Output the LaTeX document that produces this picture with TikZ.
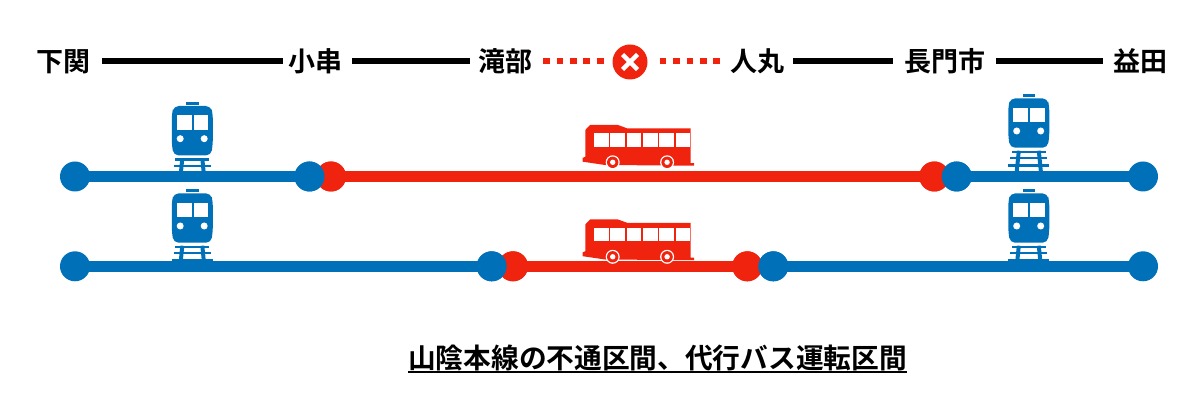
\documentclass[tikz,border=0pt]{standalone}
\usepackage{fontspec}
\usetikzlibrary{calc}
\setmainfont{Noto Sans CJK JP}[BoldFont={Noto Sans CJK JP Bold}]
\definecolor{lineblue}{HTML}{0070B8}
\definecolor{linered}{HTML}{F0230E}
\tikzset{
  stationlabel/.style={font=\fontsize{27}{27}\selectfont\bfseries,inner sep=0pt,text=black,text height=23.76pt,text depth=3.24pt},
  titlelabel/.style={font=\fontsize{27.7}{28}\selectfont\bfseries,inner sep=0pt,text=black,text height=24.4pt,text depth=3.3pt},
  blackline/.style={line width=6pt,draw=black},
  dotline/.style={line width=6pt,draw=linered,dash pattern=on 6.7pt off 6.7pt},
  blueline/.style={line width=10.5pt,draw=lineblue},
  redline/.style={line width=10.5pt,draw=linered},
  bluedot/.style={circle,fill=lineblue,minimum size=30pt,inner sep=0pt},
  reddot/.style={circle,fill=linered,minimum size=30pt,inner sep=0pt},
  stopmark/.style={circle,fill=linered,minimum size=35pt,inner sep=0pt},
  train/.pic={
    \fill[lineblue] (-6.2,0) rectangle (6.2,2.7);
    \fill[lineblue,rounded corners=5pt] (-18.5,4) -- (18.5,4) -- (20.5,12) -- (20.5,42) -- (18.8,53.4) -- (-18.8,53.4) -- (-20.5,42) -- (-20.5,12) -- cycle;
    \fill[white] (-15.5,13.4) rectangle (-0.8,28);
    \fill[white] (1.2,13.4) rectangle (15.9,28);
    \fill[white] (-12.1,36.7) circle (3.5pt);
    \fill[white] (11.9,36.7) circle (3.5pt);
    \fill[lineblue] (-17,56.4) rectangle (17,58.7);
    \fill[lineblue] (-18.5,62.7) rectangle (18.5,64.7);
    \fill[lineblue] (-20.5,69.7) rectangle (20.5,72.4);
    \draw[lineblue,line width=4pt] (-10,56.4) -- (-12,76.7);
    \draw[lineblue,line width=4pt] (10,56.4) -- (12,76.7);
  },
  bus/.pic={
    \fill[linered] (2.6,-35.7) -- (7.3,-40.7) -- (35.3,-40.7) -- (44.4,-37.4) -- (108,-37.4) -- (108,-2.5) -- (111.3,-2.5) -- (111.3,0) -- (22.3,-0.7) -- (0,-4) -- (0,-7.7) -- (2.6,-9) -- cycle;
    \foreach \i in {0,...,5}{\fill[white] (11.3+16.33*\i,-32.4) rectangle ++(14.7,13.4);}
    \foreach \w in {30,84.4}{
      \fill[white] (\w,-3.4) circle (7pt);
      \fill[linered] (\w,-3.4) circle (5.7pt);
      \fill[white] (\w,-3.4) circle (2.7pt);
    }
  }
}
\begin{document}
\begin{tikzpicture}[x=1pt,y=-1pt]
\useasboundingbox (0,0) rectangle (1200,411);
% header
\node[stationlabel] (shimonoseki) at (63.5,61) {下関};
\node[stationlabel] (ogushi) at (315,61) {小串};
\node[stationlabel] (takibe) at (505,61) {滝部};
\node[stationlabel] (hitomaru) at (757,61) {人丸};
\node[stationlabel] (nagato) at (945,61) {長門市};
\node[stationlabel] (masuda) at (1140,61) {益田};
\node[stopmark] (stop) at (630,62) {};
\draw[white,line width=4.5pt] ($(stop)+(-7.5,-7.5)$) -- ($(stop)+(7.5,7.5)$);
\draw[white,line width=4.5pt] ($(stop)+(-7.5,7.5)$) -- ($(stop)+(7.5,-7.5)$);
\draw[blackline,shorten <=11pt,shorten >=5pt] (shimonoseki.east) -- (ogushi.west);
\draw[blackline,shorten <=10pt,shorten >=8pt] (ogushi.east) -- (takibe.west);
\draw[dotline,shorten <=11pt,shorten >=2.8pt] (takibe.east) -- (stop.west |- takibe.east);
\draw[dotline,shorten <=12pt,shorten >=4.7pt] (stop.east |- hitomaru.west) -- (hitomaru.west);
\draw[blackline,shorten <=9pt,shorten >=11pt] (hitomaru.east) -- (nagato.west);
\draw[blackline,shorten <=10pt,shorten >=10pt] (nagato.east) -- (masuda.west);
% row 1
\node[bluedot] (a1) at (75,176.5) {};
\node[bluedot] (b1) at (309.5,176.5) {};
\node[reddot] (c1) at (331,176.5) {};
\node[reddot] (d1) at (934.3,176.5) {};
\node[bluedot] (e1) at (956.7,176.5) {};
\node[bluedot] (f1) at (1143,176.5) {};
\draw[blueline] (a1.center) -- (b1.center);
\draw[redline] (c1.center) -- (d1.center);
\draw[blueline] (e1.center) -- (f1.center);
\node[reddot] at (c1) {};
\node[reddot] at (d1) {};
\node[bluedot] at (b1) {};
\node[bluedot] at (e1) {};
% row 2
\node[bluedot] (a2) at (75,266.3) {};
\node[bluedot] (b2) at (491.7,266.3) {};
\node[reddot] (c2) at (513,266.3) {};
\node[reddot] (d2) at (747.3,266.3) {};
\node[bluedot] (e2) at (773.3,266.3) {};
\node[bluedot] (f2) at (1143,266.3) {};
\draw[blueline] (a2.center) -- (b2.center);
\draw[redline] (c2.center) -- (d2.center);
\draw[blueline] (e2.center) -- (f2.center);
\node[reddot] at (c2) {};
\node[reddot] at (d2) {};
\node[bluedot] at (b2) {};
\node[bluedot] at (e2) {};
% icons
\pic at (192.3,102) {train};
\pic at (1028.8,94.3) {train};
\pic at (192.3,189.3) {train};
\pic at (1028.8,189.3) {train};
\pic at (582.7,165.7) {bus};
\pic at (582.7,260.2) {bus};
% title
\node[titlelabel] (title) at (657.5,357.5) {山陰本線の不通区間、代行バス運転区間};
\draw[black,line width=2pt] ($(title.south west)+(0,0.5)$) -- ($(title.south east)+(0,0.5)$);
\end{tikzpicture}
\end{document}
